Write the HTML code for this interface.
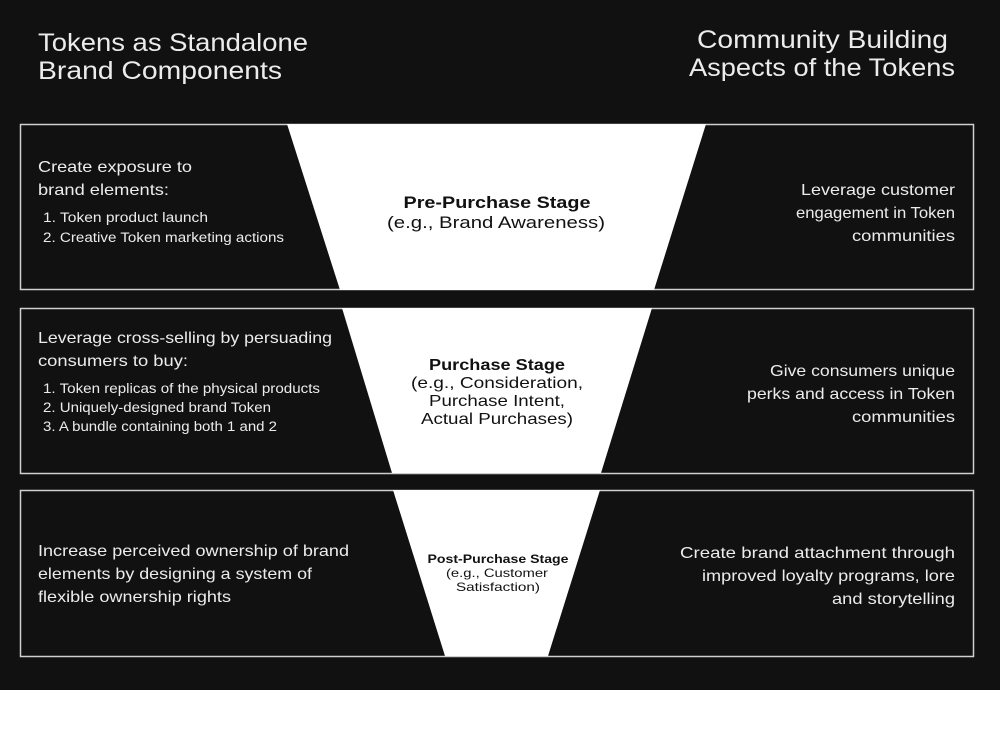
<!DOCTYPE html>
<html><head><meta charset="utf-8"><style>
html,body{margin:0;padding:0;background:#fff}
svg{display:block}
text{font-family:"Liberation Sans",sans-serif;fill:#ececec}
.c{fill:#111}
</style></head><body>
<svg width="1000" height="736" viewBox="0 0 1000 736">
<rect x="0" y="0" width="1000" height="690" fill="#111"/>
<g fill="none" stroke="#d0d0d0" stroke-width="1.5">
<rect x="20.5" y="124.5" width="953" height="165"/>
<rect x="20.5" y="308.5" width="953" height="165"/>
<rect x="20.5" y="490.5" width="953" height="166"/>
</g>
<polygon points="287,124 706,124 654,290 340,290" fill="#fff"/>
<polygon points="342,308 652,308 601,473 392,473" fill="#fff"/>
<polygon points="393,490 600,490 548,656 445,656" fill="#fff"/>

<g lengthAdjust="spacingAndGlyphs">
<text x="38" y="51" font-size="25" textLength="270" lengthAdjust="spacingAndGlyphs">Tokens as Standalone</text>
<text x="38" y="79" font-size="25" textLength="244" lengthAdjust="spacingAndGlyphs">Brand Components</text>
<text x="948" y="48" font-size="25" text-anchor="end" textLength="251" lengthAdjust="spacingAndGlyphs">Community Building</text>
<text x="955" y="76" font-size="25" text-anchor="end" textLength="266" lengthAdjust="spacingAndGlyphs">Aspects of the Tokens</text>

<text x="38" y="172" font-size="16" textLength="154" lengthAdjust="spacingAndGlyphs">Create exposure to</text>
<text x="38" y="195" font-size="16" textLength="131" lengthAdjust="spacingAndGlyphs">brand elements:</text>
<text x="43" y="222" font-size="13.5" textLength="165" lengthAdjust="spacingAndGlyphs">1. Token  product launch</text>
<text x="43" y="242" font-size="13.5" textLength="241" lengthAdjust="spacingAndGlyphs">2. Creative Token marketing actions</text>

<text class="c" x="497" y="208" font-size="16.5" font-weight="bold" text-anchor="middle" textLength="187" lengthAdjust="spacingAndGlyphs">Pre-Purchase Stage</text>
<text class="c" x="496" y="228" font-size="17" text-anchor="middle" textLength="218" lengthAdjust="spacingAndGlyphs">(e.g., Brand Awareness)</text>

<text x="955" y="195" font-size="16" text-anchor="end" textLength="154" lengthAdjust="spacingAndGlyphs">Leverage customer</text>
<text x="955" y="218" font-size="16" text-anchor="end" textLength="159" lengthAdjust="spacingAndGlyphs">engagement in Token</text>
<text x="955" y="241" font-size="16" text-anchor="end" textLength="103" lengthAdjust="spacingAndGlyphs">communities</text>

<text x="38" y="343" font-size="16" textLength="294" lengthAdjust="spacingAndGlyphs">Leverage cross-selling by persuading</text>
<text x="38" y="366" font-size="16" textLength="150" lengthAdjust="spacingAndGlyphs">consumers to buy:</text>
<text x="43" y="393" font-size="13.5" textLength="277" lengthAdjust="spacingAndGlyphs">1. Token  replicas of the physical products</text>
<text x="43" y="412" font-size="13.5" textLength="228" lengthAdjust="spacingAndGlyphs">2. Uniquely-designed brand Token</text>
<text x="43" y="431" font-size="13.5" textLength="234" lengthAdjust="spacingAndGlyphs">3. A bundle containing both 1 and 2</text>

<text class="c" x="497" y="370" font-size="15.5" font-weight="bold" text-anchor="middle" textLength="136" lengthAdjust="spacingAndGlyphs">Purchase Stage</text>
<text class="c" x="497" y="388" font-size="16" text-anchor="middle" textLength="172" lengthAdjust="spacingAndGlyphs">(e.g., Consideration,</text>
<text class="c" x="497" y="406" font-size="16" text-anchor="middle" textLength="136" lengthAdjust="spacingAndGlyphs">Purchase Intent,</text>
<text class="c" x="497" y="424" font-size="16" text-anchor="middle" textLength="152" lengthAdjust="spacingAndGlyphs">Actual Purchases)</text>

<text x="955" y="376" font-size="16" text-anchor="end" textLength="185" lengthAdjust="spacingAndGlyphs">Give consumers unique</text>
<text x="955" y="399" font-size="16" text-anchor="end" textLength="208" lengthAdjust="spacingAndGlyphs">perks and access in Token</text>
<text x="955" y="422" font-size="16" text-anchor="end" textLength="103" lengthAdjust="spacingAndGlyphs">communities</text>

<text x="38" y="556" font-size="16" textLength="311" lengthAdjust="spacingAndGlyphs">Increase perceived ownership of brand</text>
<text x="38" y="579" font-size="16" textLength="274" lengthAdjust="spacingAndGlyphs">elements by designing a system of</text>
<text x="38" y="602" font-size="16" textLength="193" lengthAdjust="spacingAndGlyphs">flexible ownership rights</text>

<text class="c" x="498" y="563" font-size="12" font-weight="bold" text-anchor="middle" textLength="141" lengthAdjust="spacingAndGlyphs">Post-Purchase Stage</text>
<text class="c" x="497" y="577" font-size="12" text-anchor="middle" textLength="102" lengthAdjust="spacingAndGlyphs">(e.g., Customer</text>
<text class="c" x="498" y="591" font-size="12" text-anchor="middle" textLength="84" lengthAdjust="spacingAndGlyphs">Satisfaction)</text>

<text x="955" y="558" font-size="16" text-anchor="end" textLength="275" lengthAdjust="spacingAndGlyphs">Create brand attachment through</text>
<text x="955" y="581" font-size="16" text-anchor="end" textLength="253" lengthAdjust="spacingAndGlyphs">improved loyalty programs, lore</text>
<text x="955" y="604" font-size="16" text-anchor="end" textLength="123" lengthAdjust="spacingAndGlyphs">and storytelling</text>
</g>
</svg>
</body></html>
